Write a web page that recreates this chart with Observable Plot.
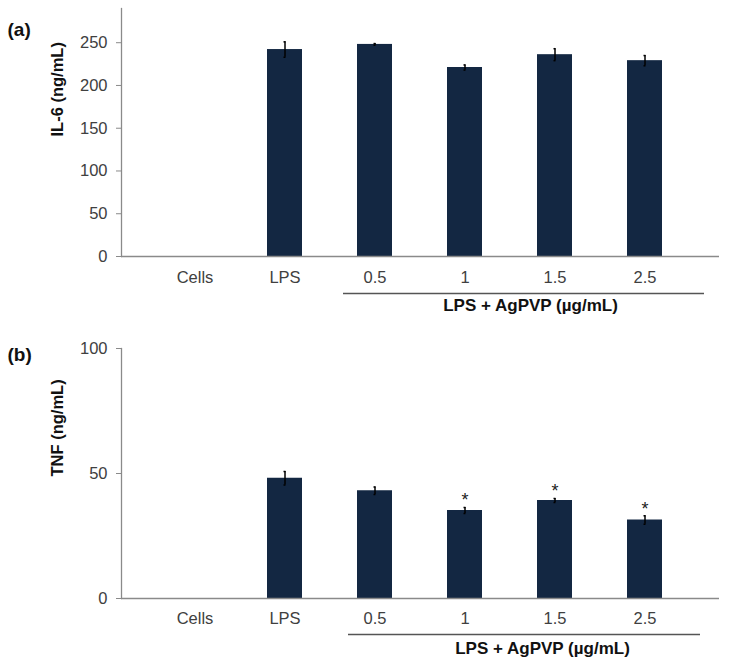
<!DOCTYPE html>
<html>
<head>
<meta charset="utf-8">
<script src="https://cdn.jsdelivr.net/npm/d3@7"></script>
<script src="https://cdn.jsdelivr.net/npm/@observablehq/plot@0.6"></script>
<style>
  html, body { margin: 0; padding: 0; background: #fff; }
  #root { width: 732px; }
  #root svg { display: block; }
</style>
</head>
<body>
<div id="root"></div>
<script>
// ---- data ----
const categories = ["Cells", "LPS", "0.5", "1", "1.5", "2.5"];
const il6Values = [0, 242, 248, 221, 236, 229];
const il6Errors = [0, 9, 1, 3, 7, 6];
const tnfValues = [0, 48.1, 43.1, 35.2, 39.2, 31.4];
const tnfErrors = [0, 2.7, 1.5, 1.2, 0.8, 1.7];
const tnfSignificant = [false, false, false, true, true, true];
const il6Significant = [false, false, false, false, false, false];
const il6Ticks = [0, 50, 100, 150, 200, 250];
const tnfTicks = [0, 50, 100];
const groupLabel = "LPS + AgPVP (µg/mL)";

const BAR = "#132742";
const AXIS = "#8a8a8a";
const TEXT = "#404040";
const FONT = "'Liberation Sans', Arial, Helvetica, sans-serif";

function panel(cfg) {
  const data = categories.map((c, i) => ({
    cat: c, v: cfg.values[i], e: cfg.errors[i], sig: cfg.sig[i]
  }));
  const withErr = data.filter(d => d.v > 0);
  return Plot.plot({
    width: 732,
    height: cfg.height,
    marginLeft: 121,
    marginRight: 13,
    marginTop: cfg.marginTop,
    marginBottom: cfg.marginBottom,
    style: { fontFamily: FONT, background: "#fff", overflow: "visible" },
    x: { domain: categories, padding: 0.61, label: null },
    y: { domain: cfg.domain, label: null },
    marks: [
      Plot.barY(data, { x: "cat", y: "v", fill: BAR }),
      Plot.ruleX(withErr, { x: "cat", y1: d => d.v - d.e, y2: d => d.v + d.e, stroke: "#000", strokeWidth: 1.5 }),
      Plot.tickY(withErr, { x: "cat", y: d => d.v + d.e, stroke: "#000", strokeWidth: 1.5, insetLeft: 16.5, insetRight: 16.5 }),
      Plot.tickY(withErr, { x: "cat", y: d => d.v - d.e, stroke: "#000", strokeWidth: 1.5, insetLeft: 16.5, insetRight: 16.5 }),
      Plot.text(data.filter(d => d.sig), { x: "cat", y: d => d.v + d.e, text: () => "*", dy: -7, fontSize: 18, fill: "#222" }),
      Plot.frame({ anchor: "left", stroke: AXIS, strokeWidth: 1.3 }),
      Plot.ruleY([0], { stroke: AXIS, strokeWidth: 1.3 }),
      Plot.axisY({ ticks: cfg.ticks, tickSize: 5, tickPadding: 9, fontSize: 16.5, stroke: AXIS, fill: TEXT, label: null }),
      Plot.axisX({ tickSize: 0, tickPadding: cfg.xPad, fontSize: 16.5, fill: TEXT, label: null }),
      Plot.ruleY([0], { dy: cfg.bracketDy, insetLeft: cfg.bracketL, insetRight: cfg.bracketR, stroke: "#555", strokeWidth: 1.3 }),
      Plot.text([groupLabel], { frameAnchor: "bottom", dx: cfg.groupDx, dy: cfg.groupDy, fontSize: 17, fontWeight: "bold", fill: "#111" }),
      Plot.text([cfg.title], { frameAnchor: "left", rotate: -90, dx: -64, dy: cfg.titleDy, fontSize: 16.5, fontWeight: "bold", fill: "#111" }),
      Plot.text([cfg.letter], { frameAnchor: "top-left", textAnchor: "start", dx: -114, dy: cfg.letterDy, fontSize: 19, fontWeight: "bold", fill: "#111" })
    ]
  });
}

const root = document.getElementById("root");
root.appendChild(panel({
  values: il6Values, errors: il6Errors, sig: il6Significant,
  domain: [0, 290], ticks: il6Ticks, title: "IL-6 (ng/mL)", letter: "(a)",
  height: 330, marginTop: 8, marginBottom: 74, xPad: 14.5,
  bracketDy: 37, bracketL: 222, bracketR: 15,
  groupDx: 110, groupDy: 54, titleDy: 4, letterDy: 14
}));
root.appendChild(panel({
  values: tnfValues, errors: tnfErrors, sig: tnfSignificant,
  domain: [0, 100], ticks: tnfTicks, title: "TNF (ng/mL)", letter: "(b)",
  height: 338, marginTop: 18, marginBottom: 70, xPad: 13.5,
  bracketDy: 36, bracketL: 227, bracketR: 19,
  groupDx: 122, groupDy: 55, titleDy: 3, letterDy: -1
}));
</script>
</body>
</html>
